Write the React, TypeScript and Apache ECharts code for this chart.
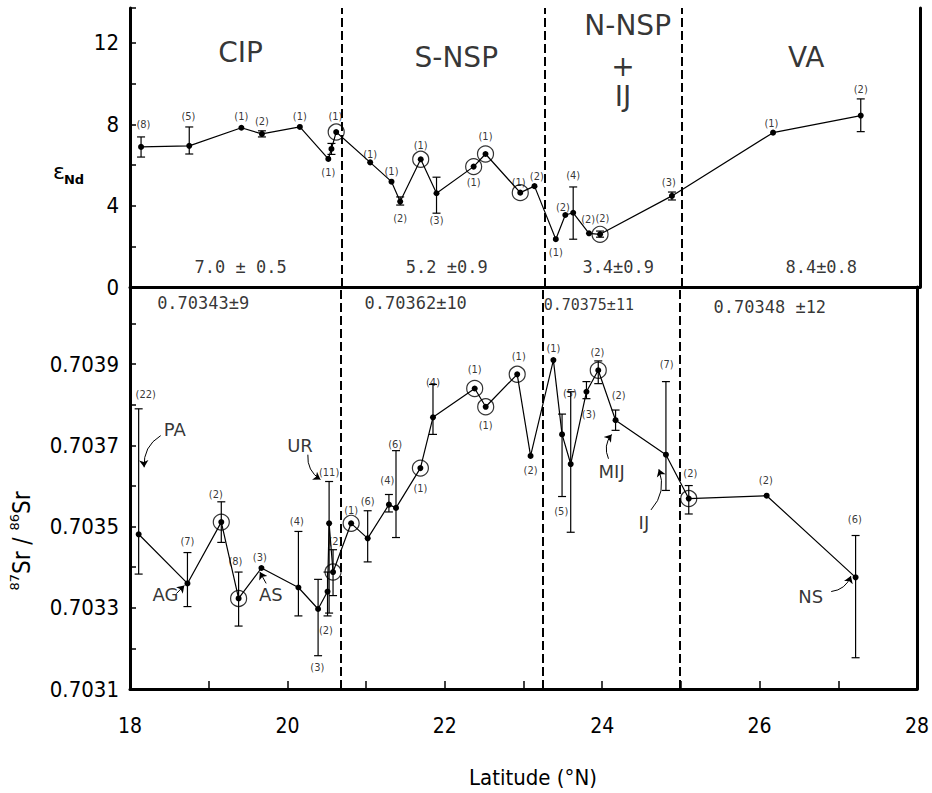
import React, { useEffect, useRef } from "react";
import * as echarts from "echarts";

// ---------- data: top panel (epsilon Nd) ----------
const ND_LAT = [18.14, 18.75, 19.41, 19.67, 20.15, 20.51, 20.55, 20.61, 21.04, 21.31, 21.42, 21.68, 21.88, 22.35, 22.5, 22.94, 23.12, 23.39, 23.51, 23.61, 23.81, 23.95, 24.86, 26.14, 27.25];
const ND_EPS = [6.89, 6.94, 7.83, 7.53, 7.87, 6.3, 6.79, 7.62, 6.13, 5.18, 4.2, 6.28, 4.61, 5.92, 6.54, 4.64, 4.96, 2.35, 3.54, 3.65, 2.64, 2.59, 4.48, 7.59, 8.43];
// [lat, low, high]
const ND_ERR = [
  [18.14, 6.39, 7.38], [18.75, 6.54, 7.87], [19.67, 7.38, 7.68], [20.55, 6.52, 7.06],
  [21.42, 4.03, 4.43], [21.88, 3.63, 5.4], [23.61, 2.35, 4.92], [23.95, 2.45, 2.75],
  [24.86, 4.28, 4.67], [27.25, 7.64, 9.25],
];
const ND_CIRCLED = [20.61, 21.68, 22.35, 22.5, 22.94, 23.95];
// [lat, eps, sample count]
const ND_COUNTS: [number, number, string][] = [
  [18.17, 7.97, "(8)"], [18.74, 8.36, "(5)"], [19.41, 8.36, "(1)"], [19.67, 8.12, "(2)"],
  [20.15, 8.36, "(1)"], [20.51, 5.61, "(1)"], [20.6, 8.36, "(1)"], [21.04, 6.54, "(1)"],
  [21.31, 5.66, "(1)"], [21.42, 3.39, "(2)"], [21.68, 6.94, "(1)"], [21.88, 3.25, "(3)"],
  [22.35, 5.12, "(1)"], [22.5, 7.38, "(1)"], [22.92, 5.16, "(1)"], [23.15, 5.41, "(2)"],
  [23.39, 1.72, "(1)"], [23.48, 3.93, "(2)"], [23.61, 5.46, "(4)"], [23.8, 3.3, "(2)"],
  [23.98, 3.39, "(2)"], [24.82, 5.12, "(3)"], [26.12, 8.02, "(1)"], [27.25, 9.69, "(2)"],
];
const ND_MEANS = ["7.0 ± 0.5", "5.2 ±0.9", "3.4±0.9", "8.4±0.8"];

// ---------- data: bottom panel (87Sr/86Sr) ----------
const SR_LAT = [18.11, 18.73, 19.16, 19.38, 19.67, 20.14, 20.39, 20.51, 20.53, 20.58, 20.81, 21.02, 21.29, 21.38, 21.69, 21.85, 22.38, 22.52, 22.92, 23.09, 23.38, 23.49, 23.6, 23.8, 23.95, 24.17, 24.81, 25.1, 26.09, 27.22];
const SR_VAL = [0.703481, 0.70336, 0.703511, 0.703323, 0.703398, 0.70335, 0.703297, 0.70334, 0.703508, 0.703388, 0.703508, 0.703471, 0.703554, 0.703546, 0.703644, 0.703769, 0.70384, 0.703795, 0.703875, 0.703674, 0.70391, 0.703727, 0.703654, 0.703832, 0.703885, 0.703762, 0.703677, 0.703569, 0.703576, 0.703375];
const SR_ERR = [
  [18.11, 0.703383, 0.70379], [18.73, 0.703303, 0.703436], [19.16, 0.703461, 0.703561],
  [19.38, 0.703255, 0.703388], [20.14, 0.70328, 0.703488], [20.39, 0.703182, 0.70337],
  [20.51, 0.70328, 0.703388], [20.53, 0.703287, 0.703611], [20.58, 0.70333, 0.703443],
  [21.02, 0.703413, 0.703539], [21.29, 0.703536, 0.703579], [21.38, 0.703473, 0.703687],
  [21.85, 0.703727, 0.70385], [23.49, 0.703574, 0.703777], [23.6, 0.703486, 0.703832],
  [23.8, 0.703815, 0.703857], [23.95, 0.703852, 0.703908], [24.17, 0.703737, 0.703787],
  [24.81, 0.703589, 0.703857], [25.1, 0.703531, 0.703601], [27.22, 0.703177, 0.703478],
];
const SR_CIRCLED = [19.16, 19.38, 20.58, 20.81, 21.69, 22.38, 22.52, 22.92, 23.95, 25.1];
const SR_COUNTS: [number, number, string][] = [
  [18.2, 0.703825, "(22)"], [18.73, 0.703463, "(7)"], [19.09, 0.703579, "(2)"], [19.34, 0.703413, "(8)"],
  [19.65, 0.703423, "(3)"], [20.12, 0.703513, "(4)"], [20.38, 0.703154, "(3)"], [20.49, 0.703245, "(2)"],
  [20.53, 0.703634, "(11)"], [20.61, 0.703463, "(2)"], [20.81, 0.703539, "(1)"], [21.02, 0.703561, "(6)"],
  [21.27, 0.703614, "(4)"], [21.37, 0.703702, "(6)"], [21.69, 0.703594, "(1)"], [21.85, 0.703855, "(4)"],
  [22.38, 0.703887, "(1)"], [22.52, 0.703749, "(1)"], [22.94, 0.703918, "(1)"], [23.09, 0.703639, "(2)"],
  [23.38, 0.703938, "(1)"], [23.48, 0.703536, "(5)"], [23.59, 0.703827, "(5)"], [23.83, 0.703777, "(3)"],
  [23.94, 0.703928, "(2)"], [24.21, 0.703822, "(2)"], [24.82, 0.703898, "(7)"], [25.12, 0.703631, "(2)"],
  [26.08, 0.703614, "(2)"], [27.21, 0.703518, "(6)"],
];
const SR_MEANS = ["0.70343±9", "0.70362±10", "0.70375±11", "0.70348 ±12"];
const SITE_NAMES = ["PA", "AG", "AS", "UR", "MIJ", "IJ", "NS"];

const REGION_NAMES = ["CIP", "S-NSP", "N-NSP", "+", "IJ", "VA"];
const BOUNDARIES = [20.68, 23.25, 24.98];

// ---------- layout of annotations (data coordinates) ----------
const REGION_POS = [[19.4, 11.51], [22.13, 11.31], [24.3, 12.84], [24.24, 10.82], [24.24, 9.35], [26.56, 11.31]];
const ND_MEAN_POS = [[19.4, 0.98], [22.01, 0.98], [24.18, 0.98], [26.75, 0.98]];
const SR_MEAN_POS = [[18.93, 0.704051], [21.63, 0.704051], [23.83, 0.704046], [26.13, 0.704041]];
const SITE_POS = [[18.57, 0.703739], [18.45, 0.703333], [19.79, 0.703333], [20.16, 0.703699], [24.12, 0.703636], [24.53, 0.703511], [26.65, 0.703328]];
const ARROWS = [
  [18.39, 0.703724, 18.18, 0.703646, -0.3],
  [18.59, 0.703335, 18.69, 0.703355, 0],
  [19.73, 0.70336, 19.65, 0.703388, 0],
  [20.26, 0.703677, 20.42, 0.703616, -0.3],
  [24.08, 0.703667, 24.12, 0.703727, 0.3],
  [24.62, 0.703541, 24.72, 0.703641, -0.3],
  [26.91, 0.70334, 27.16, 0.703378, -0.3],
];

const COND = '"DejaVu Sans Condensed", "Liberation Sans Narrow", "DejaVu Sans", sans-serif';
const SANS = '"DejaVu Sans", "Liberation Sans", sans-serif';
const MONO = '"DejaVu Sans Mono", "Liberation Mono", monospace';

function errRender(params: any, api: any) {
  const x = api.value(0);
  const lo = api.coord([x, api.value(1)]);
  const hi = api.coord([x, api.value(2)]);
  const w = 4;
  const st = { stroke: "#000", lineWidth: 1.2 };
  return {
    type: "group",
    children: [
      { type: "line", shape: { x1: lo[0], y1: lo[1], x2: hi[0], y2: hi[1] }, style: st },
      { type: "line", shape: { x1: lo[0] - w, y1: lo[1], x2: lo[0] + w, y2: lo[1] }, style: st },
      { type: "line", shape: { x1: hi[0] - w, y1: hi[1], x2: hi[0] + w, y2: hi[1] }, style: st },
    ],
  };
}

function textItem(pos: number[], t: string, fontSize: number, fontFamily: string) {
  return { value: [pos[0], pos[1]], t, label: { fontSize, fontFamily } };
}

function labelSeries(xi: number, data: any[]) {
  return {
    type: "scatter",
    xAxisIndex: xi,
    yAxisIndex: xi,
    symbolSize: 1,
    silent: true,
    itemStyle: { color: "transparent" },
    z: 5,
    label: {
      show: true,
      position: "inside",
      color: "#000",
      formatter: (p: any) => p.data.t,
    },
    data,
  };
}

const dashLine = {
  silent: true,
  symbol: ["none", "none"],
  label: { show: false },
  lineStyle: { color: "#000", width: 2, type: [9, 4] },
  data: BOUNDARIES.map((b) => ({ xAxis: b })),
};

export default function App() {
  const ref = useRef<HTMLDivElement>(null);
  useEffect(() => {
    document.body.style.margin = "0";
    if (!ref.current) return;
    const chart = echarts.init(ref.current, undefined, { renderer: "svg" });

    const ndData = ND_LAT.map((x, i) => [x, ND_EPS[i]]);
    const srData = SR_LAT.map((x, i) => [x, SR_VAL[i]]);
    const ndCirc = ND_CIRCLED.map((x) => [x, ND_EPS[ND_LAT.indexOf(x)]]);
    const srCirc = SR_CIRCLED.map((x) => [x, SR_VAL[SR_LAT.indexOf(x)]]);

    const topLabels = [
      ...ND_COUNTS.map((c) => textItem([c[0], c[1]], c[2], 11, COND)),
      ...REGION_NAMES.map((t, i) => textItem(REGION_POS[i], t, 28, SANS)),
      ...ND_MEANS.map((t, i) => textItem(ND_MEAN_POS[i], t, 17, MONO)),
    ];
    const botLabels = [
      ...SR_COUNTS.map((c) => textItem([c[0], c[1]], c[2], 11, COND)),
      ...SR_MEANS.map((t, i) => textItem(SR_MEAN_POS[i], t, i === 2 ? 15 : 17, MONO)),
      ...SITE_NAMES.map((t, i) => textItem(SITE_POS[i], t, 18, SANS)),
    ];

    const axisBase = {
      type: "value",
      splitLine: { show: false },
      axisLine: { show: true, onZero: false, lineStyle: { color: "#000", width: 3 } },
    };

    const option: any = {
      animation: false,
      backgroundColor: "#fff",
      grid: [
        { left: 130, top: 8, width: 790, height: 279 },
        { left: 130, top: 287, width: 790, height: 402 },
      ],
      xAxis: [
        { ...axisBase, gridIndex: 0, min: 18, max: 28, interval: 1, axisTick: { show: false }, axisLabel: { show: false } },
        {
          ...axisBase, gridIndex: 1, min: 18, max: 28, interval: 1,
          axisTick: { show: true, inside: true, length: 8, lineStyle: { color: "#000", width: 1.5 } },
          axisLabel: {
            show: true, margin: 26, fontSize: 21, fontFamily: COND, color: "#000",
            formatter: (v: number) => (Math.round(v) % 2 === 0 ? String(Math.round(v)) : ""),
          },
        },
      ],
      yAxis: [
        {
          ...axisBase, gridIndex: 0, min: 0, max: 13.72, interval: 2,
          axisTick: { show: true, inside: true, length: 6, lineStyle: { color: "#000", width: 1.5 } },
          axisLabel: {
            show: true, margin: 11, fontSize: 22, fontFamily: COND, color: "#000",
            formatter: (v: number) => {
              const k = Math.round(v);
              return Math.abs(v - k) < 0.01 && k % 4 === 0 ? String(k) : "";
            },
          },
        },
        {
          ...axisBase, gridIndex: 1, min: 0.7031, max: 0.70409, interval: 0.0001,
          axisTick: { show: true, inside: true, length: 6, lineStyle: { color: "#000", width: 1.5 } },
          axisLabel: {
            show: true, margin: 11, fontSize: 22, fontFamily: COND, color: "#000",
            formatter: (v: number) => {
              const k = Math.round(v * 10000);
              return Math.abs(v * 10000 - k) < 0.01 && k % 2 === 1 && k <= 7039 ? (k / 10000).toFixed(4) : "";
            },
          },
        },
        { ...axisBase, gridIndex: 0, position: "right", min: 0, max: 13.72, axisTick: { show: false }, axisLabel: { show: false } },
        { ...axisBase, gridIndex: 1, position: "right", min: 0.7031, max: 0.70409, axisTick: { show: false }, axisLabel: { show: false } },
      ],
      series: [
        {
          type: "line", xAxisIndex: 0, yAxisIndex: 0, data: ndData,
          symbol: "circle", symbolSize: 6, itemStyle: { color: "#000" },
          lineStyle: { color: "#000", width: 1.2 }, z: 3, markLine: dashLine,
        },
        { type: "custom", xAxisIndex: 0, yAxisIndex: 0, data: ND_ERR, encode: { x: 0, y: [1, 2] }, renderItem: errRender, z: 2 },
        {
          type: "scatter", xAxisIndex: 0, yAxisIndex: 0, data: ndCirc, symbol: "circle", symbolSize: 16,
          itemStyle: { color: "rgba(0,0,0,0)", borderColor: "#000", borderWidth: 1.2 }, z: 4,
        },
        labelSeries(0, topLabels),
        {
          type: "line", xAxisIndex: 1, yAxisIndex: 1, data: srData,
          symbol: "circle", symbolSize: 6, itemStyle: { color: "#000" },
          lineStyle: { color: "#000", width: 1.2 }, z: 3, markLine: dashLine,
        },
        { type: "custom", xAxisIndex: 1, yAxisIndex: 1, data: SR_ERR, encode: { x: 0, y: [1, 2] }, renderItem: errRender, z: 2 },
        {
          type: "scatter", xAxisIndex: 1, yAxisIndex: 1, data: srCirc, symbol: "circle", symbolSize: 16,
          itemStyle: { color: "rgba(0,0,0,0)", borderColor: "#000", borderWidth: 1.2 }, z: 4,
        },
        labelSeries(1, botLabels),
        {
          type: "lines", coordinateSystem: "cartesian2d", xAxisIndex: 1, yAxisIndex: 1, silent: true,
          symbol: ["none", "arrow"], symbolSize: 7,
          lineStyle: { color: "#000", width: 1, opacity: 1 },
          data: ARROWS.map((a) => ({ coords: [[a[0], a[1]], [a[2], a[3]]], lineStyle: { curveness: a[4] } })),
        },
      ],
      graphic: [
        { type: "text", x: 59, y: 171, style: { text: "ε", fontSize: 22, fontFamily: SANS, fill: "#000", align: "center", verticalAlign: "middle" } },
        { type: "text", x: 74, y: 179, style: { text: "Nd", fontSize: 13, fontWeight: "bold", fontFamily: SANS, fill: "#000", align: "center", verticalAlign: "middle" } },
        {
          type: "text", x: 22, y: 541, rotation: Math.PI / 2,
          style: {
            text: "{s|87}{b|Sr / }{s|86}{b|Sr}",
            align: "center", verticalAlign: "middle", fill: "#000",
            rich: {
              s: { fontSize: 13, fontFamily: SANS, verticalAlign: "top", lineHeight: 28, fill: "#000" },
              b: { fontSize: 24, fontFamily: COND, lineHeight: 28, fill: "#000" },
            },
          },
        },
        { type: "text", x: 533, y: 777, style: { text: "Latitude (°N)", fontSize: 22, fontFamily: COND, fill: "#000", align: "center", verticalAlign: "middle" } },
      ],
    };
    chart.setOption(option);
    return () => chart.dispose();
  }, []);
  return <div ref={ref} style={{ width: 932, height: 793 }} />;
}
